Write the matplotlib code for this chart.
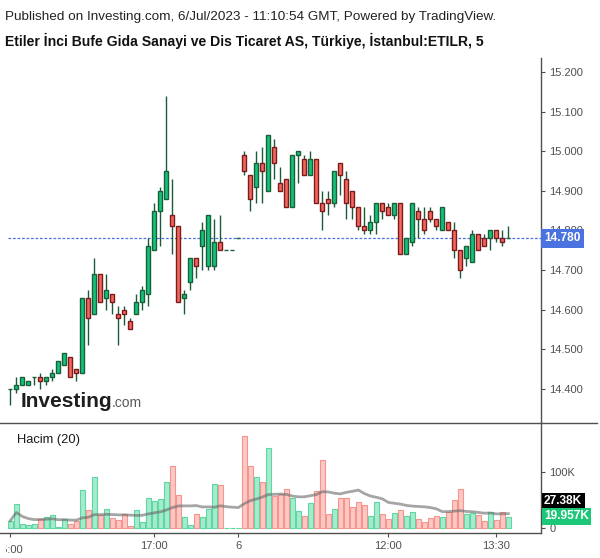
"""
ETILR 5-minute candles with volume (Hacim 20), Investing.com / TradingView style.
"""

import numpy as np
import pandas as pd
import matplotlib

matplotlib.use("Agg")
import matplotlib.pyplot as plt
from matplotlib.lines import Line2D
from matplotlib.transforms import Bbox, TransformedBbox, blended_transform_factory

plt.rcParams["font.family"] = ["Liberation Sans", "DejaVu Sans"]

# 5-minute bars, 5 Jul 15:00 -> 6 Jul 13:40
opens = [14.40, 14.40, 14.41, 14.41, 14.43, 14.43, 14.42, 14.43, 14.44, 14.46,
         14.48, 14.45, 14.44, 14.63, 14.59, 14.69, 14.63, 14.64, 14.59, 14.60,
         14.57, 14.59, 14.62, 14.64, 14.75, 14.85, 14.88, 14.84, 14.81, 14.63,
         14.67, 14.73, 14.76, 14.71, 14.71, 14.77, 14.75, 14.75, 14.78, 14.99,
         14.94, 14.91, 14.97, 14.90, 15.01, 14.92, 14.93, 14.86, 14.99, 14.98,
         14.94, 14.98, 14.87, 14.88, 14.87, 14.97, 14.93, 14.90, 14.86, 14.81,
         14.80, 14.82, 14.87, 14.86, 14.84, 14.87, 14.74, 14.77, 14.85, 14.83,
         14.85, 14.83, 14.80, 14.82, 14.80, 14.75, 14.73, 14.72, 14.79, 14.78,
         14.78, 14.80, 14.78, 14.78]
highs = [14.40, 14.43, 14.43, 14.42, 14.43, 14.44, 14.43, 14.45, 14.47, 14.49,
         14.48, 14.45, 14.63, 14.65, 14.73, 14.69, 14.69, 14.64, 14.61, 14.61,
         14.58, 14.64, 14.66, 14.78, 14.87, 14.91, 15.14, 14.93, 14.81, 14.65,
         14.73, 14.73, 14.82, 14.84, 14.83, 14.84, 14.75, 14.75, 14.78, 15.00,
         14.94, 15.00, 15.01, 15.04, 15.03, 14.96, 14.93, 14.99, 15.00, 14.99,
         15.00, 14.98, 14.90, 14.90, 14.95, 14.97, 14.95, 14.90, 14.86, 14.86,
         14.84, 14.87, 14.87, 14.87, 14.87, 14.87, 14.78, 14.87, 14.86, 14.86,
         14.86, 14.83, 14.86, 14.82, 14.82, 14.75, 14.76, 14.80, 14.79, 14.79,
         14.80, 14.80, 14.80, 14.81]
lows = [14.36, 14.39, 14.41, 14.41, 14.41, 14.40, 14.41, 14.42, 14.44, 14.46,
        14.43, 14.42, 14.44, 14.51, 14.59, 14.62, 14.60, 14.59, 14.51, 14.56,
        14.55, 14.59, 14.60, 14.61, 14.75, 14.76, 14.88, 14.74, 14.62, 14.59,
        14.65, 14.68, 14.70, 14.70, 14.70, 14.75, 14.75, 14.75, 14.78, 14.94,
        14.85, 14.87, 14.87, 14.90, 14.93, 14.90, 14.86, 14.86, 14.92, 14.94,
        14.94, 14.87, 14.80, 14.84, 14.86, 14.89, 14.83, 14.83, 14.80, 14.79,
        14.79, 14.79, 14.83, 14.84, 14.83, 14.74, 14.74, 14.76, 14.78, 14.79,
        14.82, 14.80, 14.80, 14.80, 14.73, 14.68, 14.71, 14.72, 14.75, 14.76,
        14.75, 14.77, 14.76, 14.78]
closes = [14.40, 14.41, 14.43, 14.42, 14.43, 14.42, 14.43, 14.44, 14.47, 14.49,
          14.43, 14.44, 14.63, 14.58, 14.69, 14.62, 14.65, 14.62, 14.58, 14.59,
          14.55, 14.62, 14.65, 14.76, 14.85, 14.90, 14.95, 14.81, 14.62, 14.64,
          14.73, 14.71, 14.80, 14.84, 14.77, 14.75, 14.75, 14.75, 14.78, 14.95,
          14.88, 14.97, 14.95, 15.04, 14.97, 14.90, 14.86, 14.99, 15.00, 14.94,
          14.98, 14.87, 14.85, 14.87, 14.95, 14.94, 14.87, 14.86, 14.81, 14.80,
          14.82, 14.87, 14.85, 14.84, 14.87, 14.74, 14.78, 14.87, 14.83, 14.80,
          14.83, 14.81, 14.86, 14.80, 14.75, 14.70, 14.76, 14.79, 14.75, 14.76,
          14.80, 14.78, 14.77, 14.78]
# volume in thousands
volumes_k = [13.6, 42.8, 7.1, 5.9, 8.3, 16.0, 19.6, 23.2, 1.8, 16.0,
             7.1, 13.6, 67.8, 32.1, 91.0, 23.8, 33.9, 17.8, 14.2, 25.0,
             3.5, 32.1, 11.9, 53.5, 48.2, 52.3, 83.3, 110.7, 58.9, 20.2,
             5.9, 25.0, 19.6, 33.9, 78.5, 76.7, 0.5, 0.2, 0.2, 164.8,
             110.7, 91.0, 82.1, 142.8, 57.1, 60.7, 69.6, 53.5, 30.3, 21.4,
             44.6, 66.0, 122.0, 25.0, 33.9, 53.5, 53.5, 37.5, 46.4, 41.0,
             21.4, 46.4, 25.0, 16.0, 26.8, 32.1, 21.4, 28.6, 16.0, 10.7,
             17.8, 21.4, 19.6, 28.6, 50.0, 70.2, 25.0, 26.8, 23.2, 12.5,
             28.6, 14.2, 28.6, 19.957]

time_tick_pos = [0, 24, 38, 63, 81]
time_tick_labels = ["15:00", "17:00", "6", "12:00", "13:30"]
price_ticks = [14.4, 14.5, 14.6, 14.7, 14.8, 14.9, 15.0, 15.1, 15.2]
volume_ticks = [0, 100]
volume_tick_labels = ["0", "100K"]

last_price_label = "14.780"
ma_label = "27.38K"
last_volume_label = "19.957K"

header = "Published on Investing.com, 6/Jul/2023 - 11:10:54 GMT, Powered by TradingView."
title = "Etiler İnci Bufe Gida Sanayi ve Dis Ticaret AS, Türkiye, İstanbul:ETILR, 5"

W, H = 600, 558
UP_FILL, UP_EDGE = "#12c47a", "#1b5e3a"
DN_FILL, DN_EDGE = "#f2675c", "#7a1c1c"
WICK = "#1d5a3a"
VUP_FILL, VUP_EDGE = "#a6ebcf", "#5ed7a1"
VDN_FILL, VDN_EDGE = "#fdc8c4", "#f4968e"
AXIS = "#4f4f4f"
TXT = "#505050"
BLUE = "#4a72e0"


def px_box(left, top, right, bottom):
    return [left / W, 1 - bottom / H, (right - left) / W, (bottom - top) / H]


def main() -> None:
    o = np.array(opens)
    h = np.array(highs)
    l = np.array(lows)
    c = np.array(closes)
    v = np.array(volumes_k)
    x = np.arange(len(o))
    up = c >= o
    ma = pd.Series(v).rolling(20, min_periods=1).mean()

    fig = plt.figure(figsize=(W / 100, H / 100), dpi=100)
    ax = fig.add_axes(px_box(0, 58, 541, 423))
    axv = fig.add_axes(px_box(0, 423, 541, 533), sharex=ax)

    # candles
    ax.vlines(x, l, h, color=WICK, lw=1.0, zorder=2)
    ax.bar(x, np.abs(c - o), bottom=np.minimum(o, c), width=0.72,
           color=np.where(up, UP_FILL, DN_FILL),
           edgecolor=np.where(up, UP_EDGE, DN_EDGE), linewidth=1.0, zorder=3)
    ax.set_xlim(-1.72, 88.45)
    ax.set_ylim(14.3136, 15.2354)

    ax.hlines(c[-1], -0.4, 88.45, colors=BLUE, linestyles=(0, (2.2, 1.4)), lw=0.9, zorder=1)

    for side in ["left", "top", "bottom"]:
        ax.spines[side].set_visible(False)
    ax.spines["right"].set_color(AXIS)
    ax.spines["right"].set_linewidth(1.0)
    ax.yaxis.tick_right()
    ax.set_yticks(price_ticks)
    ax.set_yticklabels([f"{t:.3f}" for t in price_ticks])
    ax.tick_params(axis="y", direction="out", length=3, color=AXIS, labelcolor=TXT,
                   labelsize=8, pad=3)
    ax.tick_params(axis="x", bottom=False, labelbottom=False)

    trans = blended_transform_factory(ax.transAxes, ax.transData)
    ax.text(1 + 3.5 / 541, c[-1], last_price_label, transform=trans, ha="left", va="center",
            color="white", fontsize=8.6, fontweight="bold", clip_on=False, zorder=5,
            bbox=dict(boxstyle="square,pad=0.28", fc=BLUE, ec="none"))

    # logo
    fig.text(21 / W, 1 - 407 / H, "Investing", fontsize=15, fontweight="bold",
             color="#1e1e1e", va="baseline")
    fig.text(112 / W, 1 - 407 / H, ".com", fontsize=10, color="#5a5a5a", va="baseline")

    # volume
    axv.bar(x, v, width=0.84, color=np.where(up, VUP_FILL, VDN_FILL),
            edgecolor=np.where(up, VUP_EDGE, VDN_EDGE), linewidth=0.8, zorder=2)
    axv.plot(x, ma, color="#6a6a6a", alpha=0.6, lw=2.0, zorder=3)
    axv.set_ylim(-8.39, 188.0)
    for side in ["left", "top"]:
        axv.spines[side].set_visible(False)
    for side in ["right", "bottom"]:
        axv.spines[side].set_color(AXIS)
        axv.spines[side].set_linewidth(1.0)
    axv.yaxis.tick_right()
    axv.set_yticks(volume_ticks)
    axv.set_yticklabels(volume_tick_labels)
    axv.tick_params(axis="y", direction="out", length=3, color=AXIS, labelcolor=TXT,
                    labelsize=8, pad=3)
    axv.set_xticks(time_tick_pos)
    axv.set_xticklabels([""] + time_tick_labels[1:])
    axv.tick_params(axis="x", direction="out", length=3, color=AXIS, labelcolor=TXT,
                    labelsize=8, pad=3)
    # first time label is cut at the pane's left edge, as in the source chart
    vtrans = blended_transform_factory(axv.transData, axv.transAxes)
    first = axv.text(time_tick_pos[0] - 0.25, -0.11, time_tick_labels[0], transform=vtrans,
                     ha="center", va="top", color=TXT, fontsize=8, clip_on=True)
    first.set_clip_box(TransformedBbox(Bbox([[5.5 / W, 0], [1, 1]]), fig.transFigure))

    vt = blended_transform_factory(axv.transAxes, axv.transData)
    axv.text(1 + 3 / 541, 48.7, ma_label, transform=vt, ha="left", va="center",
             color="white", fontsize=8.6, fontweight="bold", clip_on=False,
             bbox=dict(boxstyle="square,pad=0.2", fc="black", ec="none"))
    axv.text(1 + 3 / 541, v[-1] + 1.2, last_volume_label, transform=vt, ha="left",
             va="center", color="white", fontsize=8.6, fontweight="bold", clip_on=False,
             bbox=dict(boxstyle="square,pad=0.2", fc="#1cc777", ec="none"))

    axv.text(17 / 541, 0.85, "Hacim (20)", transform=axv.transAxes, ha="left",
             va="center", fontsize=9.3, color="#1a1a1a")

    # pane separator
    fig.add_artist(Line2D([0, 597 / W], [1 - 423 / H] * 2, color=AXIS, lw=1.0))

    fig.text(5 / W, 1 - 17 / H, header, fontsize=9.7, color="#222222", va="center")
    fig.text(5 / W, 1 - 41 / H, title, fontsize=10.1, fontweight="bold",
             color="#111111", va="center")

    fig.savefig("out.png", dpi=100)
    plt.close(fig)


if __name__ == "__main__":
    main()
